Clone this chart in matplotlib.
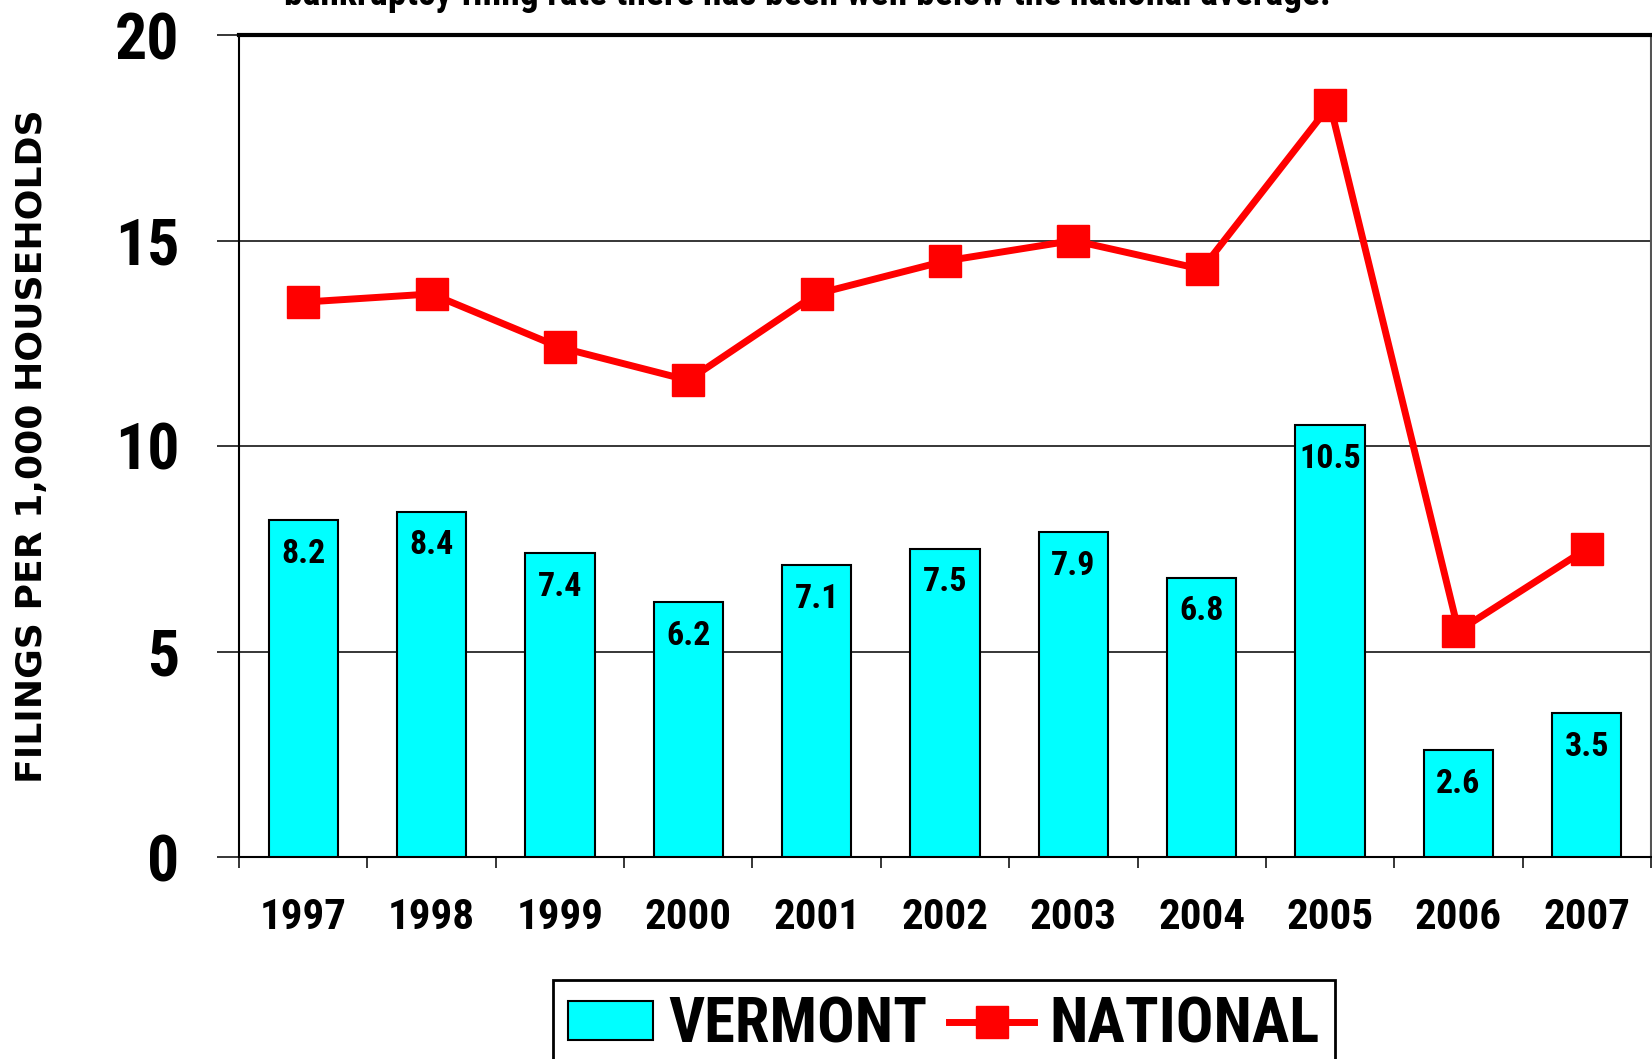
"""
Tasa de quiebras: Vermont frente al promedio nacional (1997-2007).
Barras = Vermont, línea = nacional. Guarda out.png.
"""
import matplotlib
matplotlib.use("Agg")  # sin ventana
import matplotlib.pyplot as plt
from matplotlib import font_manager
from matplotlib.font_manager import FontProperties
from matplotlib.ticker import FixedLocator

# --- datos ---
anios = ["1997", "1998", "1999", "2000", "2001", "2002",
         "2003", "2004", "2005", "2006", "2007"]
vermont = [8.2, 8.4, 7.4, 6.2, 7.1, 7.5, 7.9, 6.8, 10.5, 2.6, 3.5]
nacional = [13.5, 13.7, 12.4, 11.6, 13.7, 14.5, 15.0, 14.3, 18.3, 5.5, 7.5]
ticks_y = [0, 5, 10, 15, 20]

titulo = "bankruptcy filing rate there has been well below the national average."
etiqueta_y = "FILINGS PER 1,000 HOUSEHOLDS"


def es_negrita(f):
    w = f.weight
    if isinstance(w, str):
        return "bold" in w.lower() and "semi" not in w.lower()
    return int(w) >= 700


def fuente_estrecha():
    """Busca una fuente sans estrecha en negrita (tipo Arial Narrow)."""
    fuentes = font_manager.fontManager.ttflist
    preferidas = ["Liberation Sans Narrow", "Arial Narrow", "Roboto Condensed",
                  "Noto Sans Condensed", "Open Sans Condensed", "DejaVu Sans Condensed"]
    for nombre in preferidas:
        for f in fuentes:
            if f.name == nombre and es_negrita(f) and f.style == "normal":
                return f.fname
    for f in fuentes:
        if (f.stretch in ("condensed", "semi-condensed", "extra-condensed")
                and es_negrita(f) and f.style == "normal" and "Mono" not in f.name):
            return f.fname
    return None


ruta = fuente_estrecha()
if ruta:
    def fp(size):
        return FontProperties(fname=ruta, size=size)
    k = 1.0
else:
    def fp(size):
        return FontProperties(family="Liberation Sans", weight="bold", size=size)
    k = 0.85

W, H = 1652, 1059
fig = plt.figure(figsize=(W / 100, H / 100), dpi=100)
ax = fig.add_axes([239 / W, 1 - 857 / H, 1412 / W, 822 / H])

x = list(range(len(anios)))
barras = ax.bar(x, vermont, width=0.54, color="#00FFFF", edgecolor="black",
                linewidth=1.5, zorder=3, label="VERMONT")
linea, = ax.plot(x, nacional, color="red", lw=5, marker="s", ms=23,
                 zorder=4, clip_on=False, label="NATIONAL")

for xi, v in zip(x, vermont):
    ax.text(xi, v - 0.82, f"{v:.1f}", ha="center", va="center",
            fontproperties=fp(24.5 * k), zorder=5)

ax.set_xlim(-0.5, len(anios) - 0.5)
ax.set_ylim(0, 20)
ax.set_axisbelow(True)
ax.yaxis.grid(True, color="black", lw=1.1)

# ticks: etiquetas en el centro, marcas en los bordes de cada categoría
ax.set_xticks(x)
ax.set_xticklabels(anios)
ax.xaxis.set_minor_locator(FixedLocator([i - 0.5 for i in range(len(anios) + 1)]))
ax.tick_params(axis="x", which="major", length=0, pad=29)
ax.tick_params(axis="x", which="minor", length=8, width=1.1, direction="out")
ax.set_yticks(ticks_y)
ax.tick_params(axis="y", length=16, width=1.1, direction="out", pad=27)
for lab in ax.get_xticklabels():
    lab.set_fontproperties(fp(31 * k))
for lab in ax.get_yticklabels():
    lab.set_fontproperties(fp(46 * k))

ax.spines["left"].set_linewidth(1.5)
ax.spines["bottom"].set_linewidth(1.5)
ax.spines["top"].set_linewidth(3)
ax.spines["right"].set_color("#555555")
ax.spines["right"].set_linewidth(1.5)

fig.text(32 / W, 1 - 446 / H, etiqueta_y, rotation=90, ha="center", va="center",
         fontsize=26, fontweight="bold", family=["DejaVu Sans"])

# segunda línea del título, cortada por el borde superior
fig.text(284 / W, 1 - 5 / H, titulo, ha="left", va="baseline",
         fontproperties=fp(27 * k))

leg = fig.legend([barras, linea], ["VERMONT", "NATIONAL"], loc="upper center",
                 bbox_to_anchor=(944 / W, 1 - 980 / H), ncol=2, frameon=True,
                 fancybox=False, edgecolor="black", framealpha=1,
                 borderaxespad=0, borderpad=0.25, handlelength=1.35,
                 handleheight=0.6, handletextpad=0.25, columnspacing=0.35,
                 prop=fp(45 * k))
leg.get_frame().set_linewidth(2)

fig.savefig("out.png", dpi=100, facecolor="white")
